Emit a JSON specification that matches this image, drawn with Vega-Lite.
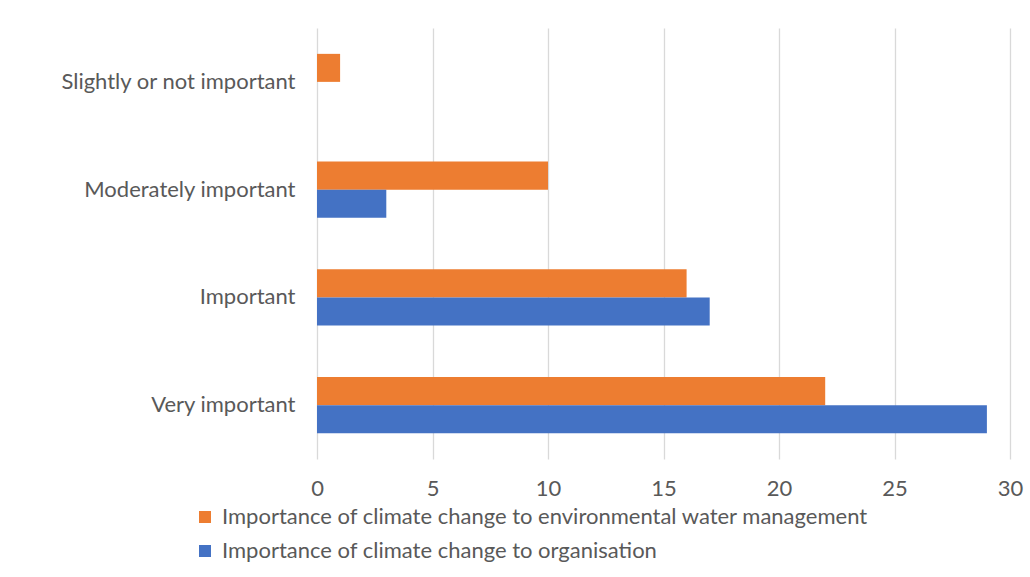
{
  "$schema": "https://vega.github.io/schema/vega-lite/v6.json",
  "autosize": "none",
  "width": 693,
  "height": 431,
  "padding": {"left": 317, "top": 28, "right": 20, "bottom": 118},
  "background": "white",
  "data": {
    "values": [
      {"category": "Slightly or not important", "series": "Importance of climate change to environmental water management", "value": 1},
      {"category": "Slightly or not important", "series": "Importance of climate change to organisation", "value": 0},
      {"category": "Moderately important", "series": "Importance of climate change to environmental water management", "value": 10},
      {"category": "Moderately important", "series": "Importance of climate change to organisation", "value": 3},
      {"category": "Important", "series": "Importance of climate change to environmental water management", "value": 16},
      {"category": "Important", "series": "Importance of climate change to organisation", "value": 17},
      {"category": "Very important", "series": "Importance of climate change to environmental water management", "value": 22},
      {"category": "Very important", "series": "Importance of climate change to organisation", "value": 29}
    ]
  },
  "config": {
    "view": {"stroke": null},
    "font": "Lato",
    "axis": {"labelColor": "#595959", "labelFont": "Lato", "labelFontSize": 22},
    "legend": {"labelColor": "#595959", "labelFont": "Lato", "labelFontSize": 22}
  },
  "mark": {"type": "bar"},
  "encoding": {
    "y": {
      "field": "category",
      "type": "nominal",
      "sort": ["Slightly or not important", "Moderately important", "Important", "Very important"],
      "scale": {"paddingInner": 0.48, "paddingOuter": 0.24},
      "axis": {"title": null, "ticks": false, "domain": false, "labelPadding": 22, "labelLimit": 400}
    },
    "x": {
      "field": "value",
      "type": "quantitative",
      "scale": {"domain": [0, 30], "nice": false},
      "axis": {"title": null, "values": [0, 5, 10, 15, 20, 25, 30], "ticks": false, "domain": false, "gridColor": "#D9D9D9", "gridWidth": 1.3, "labelPadding": 19, "labelFlush": false}
    },
    "yOffset": {
      "field": "series",
      "type": "nominal",
      "sort": ["Importance of climate change to environmental water management", "Importance of climate change to organisation"],
      "scale": {"paddingInner": 0, "paddingOuter": 0}
    },
    "color": {
      "field": "series",
      "type": "nominal",
      "scale": {
        "domain": ["Importance of climate change to environmental water management", "Importance of climate change to organisation"],
        "range": ["#ED7D31", "#4472C4"]
      },
      "legend": {
        "title": null,
        "orient": "none",
        "legendX": -123,
        "legendY": 478,
        "symbolType": "square",
        "symbolSize": 144,
        "symbolStrokeWidth": 0,
        "labelOffset": 6,
        "rowPadding": 12,
        "labelLimit": 900
      }
    }
  }
}
